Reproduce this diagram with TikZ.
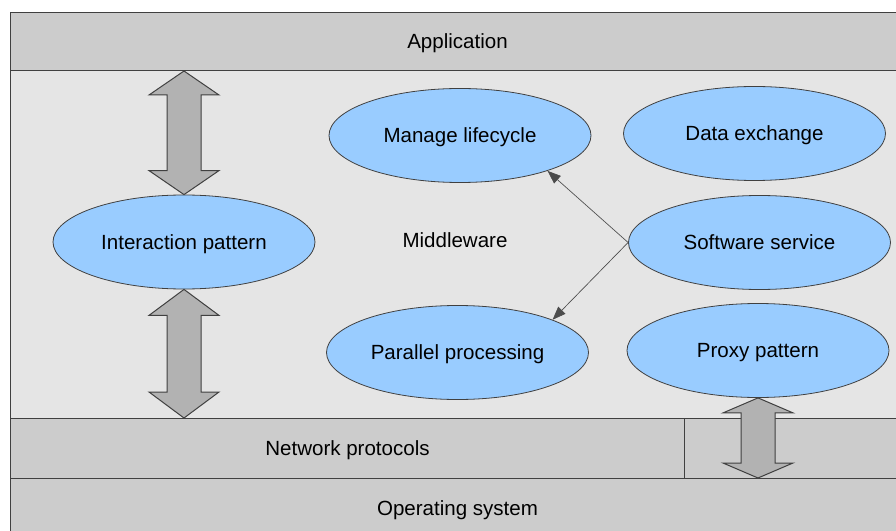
\documentclass[tikz,border=0pt]{standalone}
\usepackage{fontspec}
\setmainfont{Liberation Sans}
\usepackage{tikz}
\usetikzlibrary{positioning,arrows.meta,shapes.geometric,calc}

\definecolor{sky}{RGB}{153,204,255}

% hollow up/down arrow between two layers: top tip, bottom tip, head length
\newcommand{\dblarrow}[3]{%
  \draw[bigarrow] (#1) -- ++(35,#3) -- ++(-18,0) -- ($(#2)+(17,-#3)$) -- ++(18,0) -- (#2)
    -- ++(-35,-#3) -- ++(18,0) -- ($(#1)+(-17,#3)$) -- ++(-18,0) -- cycle;}

\begin{document}
\begin{tikzpicture}[
  x=0.75pt, y=-0.75pt,
  every node/.style={font=\fontsize{15.4}{18}\selectfont, text depth=0pt},
  layer/.style={draw=black!75, fill=black!20, anchor=north west,
                inner sep=0pt, line width=0.75pt},
  ell/.style={ellipse, draw=black!75, fill=sky, inner sep=0pt,
              minimum width=196.5pt, minimum height=70.5pt, line width=0.6pt},
  bigarrow/.style={draw=black!75, fill=black!30, line width=0.75pt},
  link/.style={-{Triangle[length=10pt,width=7.5pt]}, draw=black!70, line width=0.5pt}]

\fill[white] (0,0) rectangle (896,531);
\useasboundingbox (0,0) rectangle (896,531);
\clip (0,0) rectangle (896,531);

%% layers
\node[layer, fill=black!10, minimum width=670.5pt, minimum height=261pt] (mid) at (10,70) {};
\node[layer, minimum width=670.5pt, minimum height=43.5pt] (app)  at (10,12)  {Application};
\node[layer, minimum width=505.5pt, minimum height=45pt]   (net)  at (10,418) {Network protocols};
\node[layer, minimum width=165pt,   minimum height=45pt]   (netr) at (684,418) {};
\node[layer, minimum width=670.5pt, minimum height=45pt]   (os)   at (10,478) {Operating system};

\node (mw) at (455,240) {Middleware};

%% middleware parts
\node[ell] (inter)  at (184,242)   {Interaction pattern};
\node[ell] (manage) at (460,135.5) {Manage lifecycle};
\node[ell] (data)   at (754.5,133.5) {Data exchange};
\node[ell] (soft)   at (759.5,242.5) {Software service};
\node[ell] (par)    at (457.5,352.5) {Parallel processing};
\node[ell] (proxy)  at (758,350.5) {Proxy pattern};

\draw[link] (soft.west) -- (manage.-22);
\draw[link] (soft.west) -- (par.19);

%% between layers
\dblarrow{app.south -| inter.north}{inter.north}{24}
\dblarrow{inter.south}{inter.south |- net.north}{26}
\dblarrow{proxy.south}{proxy.south |- os.north}{15}
\end{tikzpicture}
\end{document}
